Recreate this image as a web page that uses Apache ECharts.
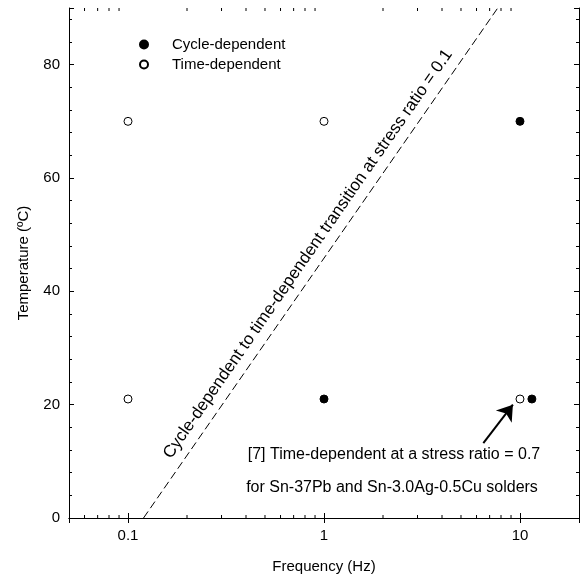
<!DOCTYPE html>
<html>
<head>
<meta charset="utf-8">
<script src="https://cdn.jsdelivr.net/npm/echarts@6/dist/echarts.min.js"></script>
<style>
  html, body { margin: 0; padding: 0; background: #fff; }
  #chart { width: 580px; height: 579px; }
</style>
</head>
<body>
<div id="chart"></div>
<script>
// frequency (Hz), temperature (C)
const cycleDependent = [[10, 70], [1, 21], [11.5, 21]];
const timeDependent = [[0.1, 70], [1, 70], [0.1, 21], [10, 21]];
const transitionLine = [[0.12, 0], [7.7, 90]];
const arrowLine = [[6.5, 13.2], [9.2, 20.0]];
const xTickLabels = [0.1, 1, 10];
const xMinorTicks = [0.06, 0.07, 0.08, 0.09,
  0.2, 0.3, 0.4, 0.5, 0.6, 0.7, 0.8, 0.9,
  2, 3, 4, 5, 6, 7, 8, 9];

const X_MIN = 0.05, X_MAX = 20, Y_MIN = 0, Y_MAX = 90;
const font = 'Liberation Sans, Arial, sans-serif';

const chart = echarts.init(document.getElementById('chart'));

const xBase = {
  type: 'log', logBase: 10, min: X_MIN, max: X_MAX,
  axisLine: { lineStyle: { color: '#000', width: 1 } },
  axisTick: { inside: true, length: 5, lineStyle: { color: '#000' } },
  splitLine: { show: false }
};
const yBase = {
  type: 'value', min: Y_MIN, max: Y_MAX, interval: 20,
  axisLine: { show: true, lineStyle: { color: '#000', width: 1 } },
  axisTick: { inside: true, length: 5, lineStyle: { color: '#000' } },
  minorTick: { show: true, splitNumber: 5, length: 3, lineStyle: { color: '#000' } },
  splitLine: { show: false }
};

chart.setOption({
  animation: false,
  grid: { left: 69, right: 1, top: 8, bottom: 59 },
  legend: {
    data: ['Cycle-dependent', 'Time-dependent'],
    orient: 'vertical',
    left: 134, top: 32,
    itemWidth: 8, itemHeight: 8, itemGap: 5,
    selectedMode: false,
    textStyle: { fontFamily: font, fontSize: 15, color: '#000', padding: [0, 0, 0, 19] }
  },
  xAxis: [
    Object.assign({}, xBase, {
      position: 'bottom',
      name: 'Frequency (Hz)', nameLocation: 'middle', nameGap: 41,
      nameTextStyle: { fontFamily: font, fontSize: 15, color: '#000' },
      axisLabel: {
        margin: 10, fontFamily: font, fontSize: 15, color: '#000',
        showMinLabel: false, showMaxLabel: false,
        formatter: v => {
          const hit = xTickLabels.find(t => Math.abs(Math.log10(t) - Math.log10(v)) < 1e-6);
          return hit === undefined ? '' : String(hit);
        }
      }
    }),
    Object.assign({}, xBase, { position: 'top', axisLabel: { show: false } })
  ],
  yAxis: [
    Object.assign({}, yBase, {
      position: 'left',
      name: 'Temperature (ºC)', nameLocation: 'middle', nameGap: 38,
      nameTextStyle: { fontFamily: font, fontSize: 15, color: '#000' },
      axisLabel: { margin: 9, fontFamily: font, fontSize: 15, color: '#000', showMaxLabel: false }
    }),
    Object.assign({}, yBase, { position: 'right', axisLabel: { show: false } })
  ],
  graphic: [
    {
      type: 'text', x: 394, y: 455,
      style: { text: '[7] Time-dependent at a stress ratio = 0.7', font: '16px ' + font,
        fill: '#000', align: 'center', verticalAlign: 'middle' }
    },
    {
      type: 'text', x: 392, y: 488,
      style: { text: 'for Sn-37Pb and Sn-3.0Ag-0.5Cu solders', font: '16px ' + font,
        fill: '#000', align: 'center', verticalAlign: 'middle' }
    }
  ],
  series: [
    {
      name: 'Cycle-dependent', type: 'scatter', data: cycleDependent,
      symbol: 'circle', symbolSize: 8,
      itemStyle: { color: '#000', borderColor: '#000', borderWidth: 1, opacity: 1 }
    },
    {
      name: 'Time-dependent', type: 'scatter', data: timeDependent,
      symbol: 'circle', symbolSize: 8,
      itemStyle: { color: '#fff', borderColor: '#000', borderWidth: 1, opacity: 1 }
    },
    {
      name: 'transition', type: 'line', data: [], silent: true,
      markLine: {
        silent: true, animation: false,
        symbol: ['none', 'none'],
        lineStyle: { color: '#000', width: 1, type: [8, 4] },
        label: {
          show: true, position: 'middle', distance: 7,
          formatter: 'Cycle-dependent to time-dependent transition at stress ratio = 0.1',
          fontFamily: font, fontSize: 17, color: '#000'
        },
        data: [[{ coord: transitionLine[0] }, { coord: transitionLine[1] }]]
      }
    },
    {
      name: 'arrow', type: 'line', data: [], silent: true,
      markLine: {
        silent: true, animation: false,
        symbol: ['none', 'arrow'], symbolSize: 15,
        lineStyle: { color: '#000', width: 2, type: 'solid' },
        itemStyle: { color: '#000' },
        label: { show: false },
        data: [[{ coord: arrowLine[0] }, { coord: arrowLine[1] }]]
      }
    },
    {
      name: 'minor', type: 'custom', silent: true,
      data: xMinorTicks.map(v => [v, Y_MIN]),
      encode: { x: 0, y: 1 },
      renderItem: (params, api) => {
        const bottom = api.coord([api.value(0), Y_MIN]);
        const top = api.coord([api.value(0), Y_MAX]);
        const style = { stroke: '#000', lineWidth: 1 };
        return {
          type: 'group',
          children: [
            { type: 'line', shape: { x1: bottom[0], y1: bottom[1], x2: bottom[0], y2: bottom[1] - 3 }, style },
            { type: 'line', shape: { x1: top[0], y1: top[1], x2: top[0], y2: top[1] + 3 }, style }
          ]
        };
      }
    }
  ]
});
</script>
</body>
</html>
